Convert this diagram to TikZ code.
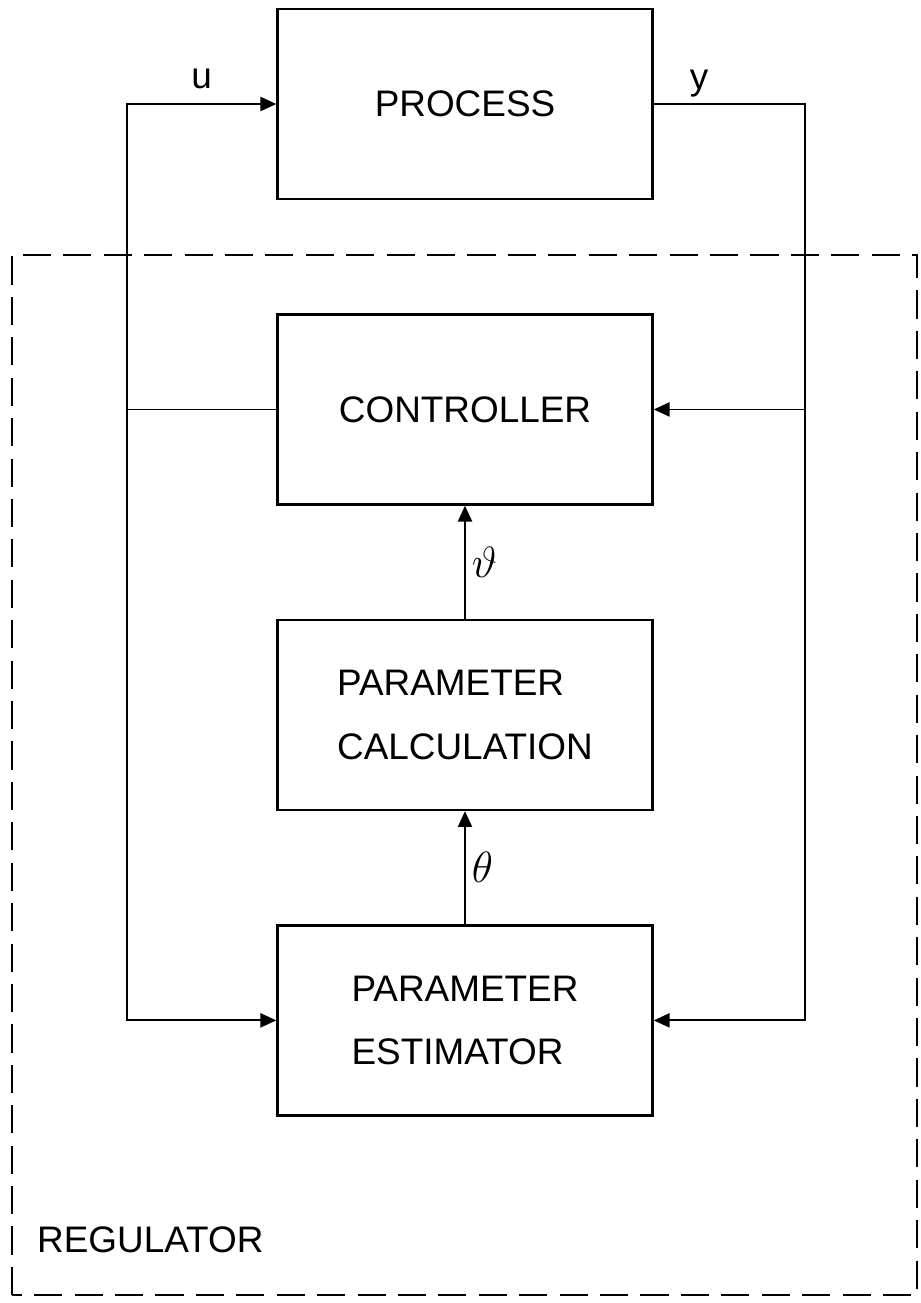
\documentclass[tikz,border=0pt]{standalone}
\usepackage{fontspec}
\setmainfont{Liberation Sans}
\usetikzlibrary{arrows.meta, positioning, calc}

\begin{document}
\begin{tikzpicture}[
  node distance=2.26cm,
  block/.style={draw, line width=1.4pt, minimum width=7.5cm, minimum height=3.8cm,
                font=\fontsize{21}{36}\selectfont, align=left},
  arrow/.style={-{Triangle[length=9pt, width=8pt]}, line width=1.1pt},
  wire/.style={line width=1.1pt},
  frame/.style={line width=1.1pt, dash pattern=on 16pt off 7pt},
  sig/.style={font=\fontsize{21}{25}\selectfont},
  param/.style={font=\fontsize{26}{30}\selectfont},
]
\useasboundingbox (0,0) rectangle (18.42,-26.06);

% blocks
\node[block] (proc) at (9.3,-2.08) {PROCESS};
\node[block, below=of proc] (ctrl) {CONTROLLER};
\node[block, below=of ctrl] (calc) {PARAMETER\\CALCULATION};
\node[block, below=of calc] (est)  {PARAMETER\\ESTIMATOR};

% signal buses
\coordinate (lbus) at (2.54,0);
\coordinate (rbus) at (16.1,0);

% regulator frame
\coordinate (regSW) at (0.24,-25.9);
\coordinate (regNE) at (18.34,-5.1);
\draw[frame] (regSW) rectangle (regNE);
\node[sig, anchor=west] (reg) at (0.62,-24.8) {REGULATOR};

% loops
\draw[arrow] (ctrl.west) -- (ctrl.west -| lbus)
  |- node[sig, pos=0.75, above, yshift=5pt] {u} (proc.west);
\draw[arrow] (ctrl.west -| lbus) |- (est.west);
\draw[arrow] (proc.east) -- node[sig, pos=0.3, above] {y} (proc.east -| rbus)
  |- (est.east);
\draw[arrow] (ctrl.east -| rbus) -- (ctrl.east);

\draw[arrow] (calc) -- node[param, right] {$\vartheta$} (ctrl);
\draw[arrow] (est) -- node[param, right] {$\theta$} (calc);

\end{tikzpicture}
\end{document}
